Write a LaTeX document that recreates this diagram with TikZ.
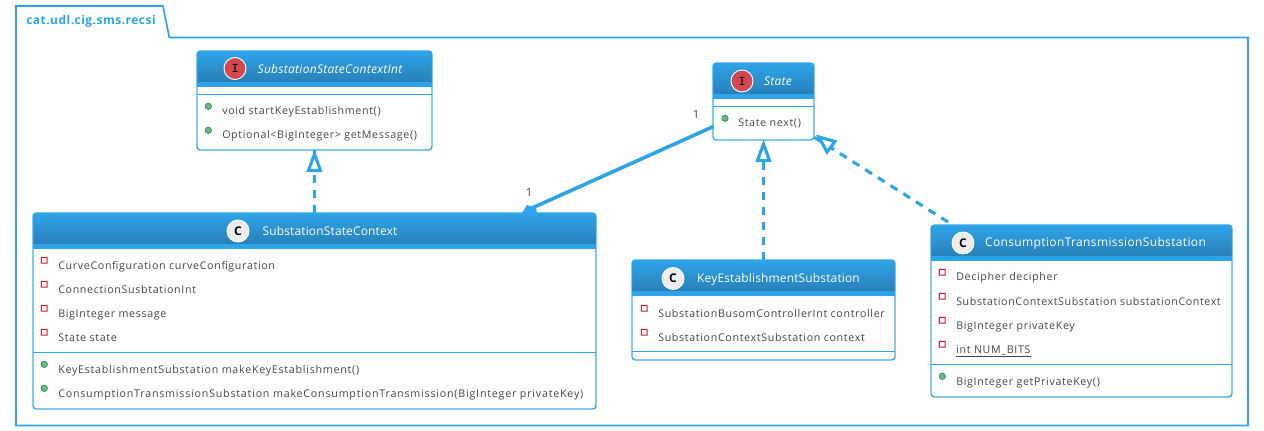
\documentclass[tikz,border=0pt]{standalone}
\usepackage{fontspec}
\setmainfont{Open Sans}
\usetikzlibrary{arrows.meta,calc}
\definecolor{umlblue}{RGB}{46,164,232}
\definecolor{umldeep}{RGB}{41,128,185}
\definecolor{umltext}{RGB}{70,70,70}
\definecolor{spotred}{RGB}{211,72,80}
\definecolor{spotgray}{RGB}{236,236,236}
\definecolor{attrred}{RGB}{205,25,35}
\definecolor{methgreen}{RGB}{108,184,122}
\definecolor{methedge}{RGB}{50,140,90}
\tikzset{
  classbox/.style={draw=umlblue,fill=white,rounded corners=2.5pt,line width=.7pt,inner sep=0pt,outer sep=0pt},
  member/.style={anchor=base west,inner sep=0pt,text=umltext,font=\fontsize{8}{9}\selectfont\addfontfeatures{LetterSpace=6.2}},
  headtext/.style={inner sep=0pt,text=white,font=\fontsize{9}{10}\selectfont\addfontfeatures{LetterSpace=3}},
  headtight/.style={headtext,font=\fontsize{9}{10}\selectfont\addfontfeatures{LetterSpace=1.2}},
  headital/.style={inner sep=0pt,text=white,font=\itshape\fontsize{9}{10}\selectfont\addfontfeatures{LetterSpace=2.4}},
  spot/.style={circle,draw=white,line width=.7pt,minimum size=16.5pt,inner sep=0pt},
  spotI/.style={spot,fill=spotred,text=black,font=\bfseries\fontsize{10}{10}\ttfamily},
  spotC/.style={spot,fill=spotgray,text=black,font=\bfseries\fontsize{9}{10}\selectfont},
  realize/.style={draw=umlblue,line width=2.3pt,dash pattern=on 6pt off 5.25pt},
  hollowtip/.style={draw=umlblue,line width=2.3pt,fill=white,line join=miter},
  multlabel/.style={inner sep=0pt,text=umltext,font=\fontsize{8.5}{10}\selectfont}
}
% x y width height name
\newcommand{\umlclass}[5]{
\node[classbox,anchor=north west,minimum width=#3*.75pt,minimum height=#4*.75pt] (#5) at (#1,#2) {};
\shade[top color=umlblue,bottom color=umldeep] (#1,#2+31) [rounded corners=2.5pt] -- (#1,#2) -- (#1+#3,#2) [sharp corners] -- (#1+#3,#2+31) -- cycle;
\fill[umlblue] (#1,#2+31) rectangle (#1+#3,#2+36);
\draw[classbox,fill=none] (#5.north west) rectangle (#5.south east);
}
\newcommand{\attrmark}[2]{\fill[attrred,even odd rule] (#1-3.4,#2-3.4) rectangle (#1+3.4,#2+3.4) (#1-2.4,#2-2.4) rectangle (#1+2.4,#2+2.4);}
\newcommand{\methmark}[2]{\fill[methgreen,draw=methedge,line width=.5pt] (#1,#2) circle (3.2);}
\begin{document}
\begin{tikzpicture}[x=.75pt,y=-.75pt]
\useasboundingbox (0,0) rectangle (1264,431);
% package
\draw[umlblue,line width=1.2pt,fill=white] (16,37.5) -- (16,6) -- (163,6) -- (169.3,37.5) -- (1248,37.5) -- (1248,425.5) -- (16,425.5) -- cycle;
% classes
\umlclass{197}{51}{235}{99}{contextint}
\umlclass{713}{63}{101}{77}{state}
\umlclass{33}{213}{563}{196}{context}
\umlclass{632}{260}{263}{100}{keyest}
\umlclass{931}{225}{301}{172}{consumption}
% separators
\draw[umlblue,line width=.6pt] (197,94.5) -- (432,94.5) (713,106.5) -- (814,106.5) (33,352.5) -- (596,352.5) (632,351.5) -- (895,351.5) (931,364.5) -- (1232,364.5);
% visibility marks
\methmark{208.3}{106.3}\methmark{208.3}{130.3}\methmark{725}{118.3}
\attrmark{44.3}{260.3}\attrmark{44.3}{284.3}\attrmark{44.3}{308.3}\attrmark{44.3}{332.3}
\methmark{44.3}{364.3}\methmark{44.3}{388.3}
\attrmark{644.3}{308.3}\attrmark{644.3}{332.3}
\attrmark{942.3}{272.3}\attrmark{942.3}{296.3}\attrmark{942.3}{320.3}\attrmark{942.3}{344.3}
\methmark{942.3}{376.3}
% relations
\coordinate (stateleft) at (713.5,126.5);
\coordinate (contexttop) at (531,208.5);
\coordinate (statecorner) at (814,137);
\coordinate (consumptiontop) at (948,222);
\draw[umlblue,line width=2.7pt] (stateleft) -- (contexttop);
\fill[umlblue] (522,213) -- (527,205) -- (536,208) -- (537,213) -- cycle;
\draw[realize] (context.north) -- (contextint.south);
\draw[realize] (keyest.north) -- (state.south);
\draw[realize] (consumptiontop) -- (statecorner);
\draw[hollowtip] (314.5,154) -- (320.5,170.5) -- (308.5,170.5) -- cycle;
\draw[hollowtip] (763.5,144) -- (769.5,160.5) -- (757.5,160.5) -- cycle;
\draw[hollowtip] (819,137) -- (835,141.5) -- (827,152) -- cycle;
% spots
\node[spotI] (spotcontextint) at (235,68.5) {I};
\node[spotI] (spotstate) at (742,81) {I};
\node[spotC] (spotcontext) at (238,231) {C};
\node[spotC] (spotkeyest) at (673,278.5) {C};
\node[spotC] (spotconsumption) at (963,243) {C};
% titles
\node[anchor=base west,inner sep=0pt,text=umlblue,font=\bfseries\fontsize{9}{10}\selectfont\addfontfeatures{LetterSpace=4}] (pkg) at (26,25) {cat.udl.cig.sms.recsi};
\node[headital] (titlecontextint) at (330,69) {SubstationStateContextInt};
\node[headital] (titlestate) at (778,81) {State};
\node[headtight] (titlecontext) at (330,231) {SubstationStateContext};
\node[headtight] (titlekeyest) at (778.5,279) {KeyEstablishmentSubstation};
\node[headtext] (titleconsumption) at (1095.5,243) {ConsumptionTransmissionSubstation};
\node[multlabel] (multstate) at (696,114) {1};
\node[multlabel] (multcontext) at (529,192) {1};
% members
\node[member] (m1) at (222,115) {void startKeyEstablishment()};
\node[member] (m2) at (222,139) {Optional<BigInteger> getMessage()};
\node[member] (m3) at (738,127) {State next()};
\node[member] (a1) at (58,269) {CurveConfiguration curveConfiguration};
\node[member] (a2) at (58,293) {ConnectionSusbtationInt};
\node[member] (a3) at (58,317) {BigInteger message};
\node[member] (a4) at (58,341) {State state};
\node[member] (m4) at (58,373) {\addfontfeatures{LetterSpace=7}KeyEstablishmentSubstation makeKeyEstablishment()};
\node[member] (m5) at (58,397) {\addfontfeatures{LetterSpace=7.4}ConsumptionTransmissionSubstation makeConsumptionTransmission(BigInteger privateKey)};
\node[member] (a5) at (658,317) {SubstationBusomControllerInt controller};
\node[member] (a6) at (658,341) {SubstationContextSubstation context};
\node[member] (a7) at (956,281) {Decipher decipher};
\node[member] (a8) at (956,305) {\addfontfeatures{LetterSpace=5.6}SubstationContextSubstation substationContext};
\node[member] (a9) at (956,329) {BigInteger privateKey};
\node[member] (a10) at (956,353) {\underline{int NUM\_BITS}};
\node[member] (m6) at (956,385) {BigInteger getPrivateKey()};
\end{tikzpicture}
\end{document}
